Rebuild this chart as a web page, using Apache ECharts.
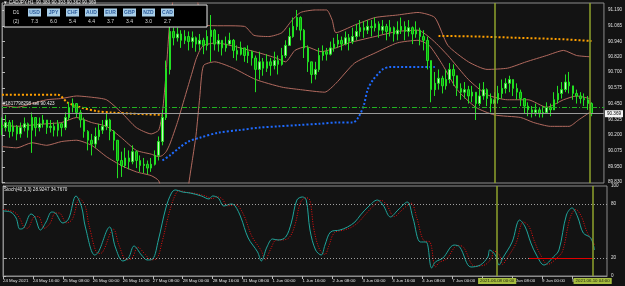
<!DOCTYPE html>
<html><head><meta charset="utf-8">
<script src="https://cdn.jsdelivr.net/npm/echarts@6/dist/echarts.min.js"></script>
<style>html,body{margin:0;padding:0;background:#131313;}#c{width:625px;height:286px;}</style>
</head><body><div id="c"></div>
<script>
// ---------- DATA ----------
const candleIdx = [0,2,4,6,8,10,12,14,16,18,20,22,24,26,28,30,32,34,36,38,40,42,44,46,48,50,52,54,56,58,60,62,64,66,68,70,72,74,76,78,80,82,84,86,88,90,92,94,96,98,100,102,104,106,108,110,112,114,116,118,120,122,124,126,128,130,132,134,136,138,140,142,144,146,148,150,152,154,156,158,160,162,164,166,168,170,172,174,176,178,180,182,184,186,188,190,192,194,196,198,200,202,204,206,208,210,212,214,216,218,220,222,224,226,228,230,232,234,236,238,240,242,244,246,248,250,252,254,256,258,260,262,264,266,268,270,272,274,276,278,280,282,284,286,288,290,292,294,296,298,300,302,304,306,308,310,312,314,316];
const candleOpen = [90.28,90.26,90.30,90.23,90.27,90.21,90.26,90.29,90.24,90.34,
90.26,90.29,90.32,90.26,90.27,90.24,90.29,90.26,90.34,90.42,
90.45,90.38,90.32,90.23,90.16,90.13,90.19,90.24,90.27,90.32,
90.23,90.16,90.00,89.96,90.02,89.99,90.07,90.00,89.96,89.97,
89.94,89.97,90.04,90.15,90.34,90.72,91.02,90.97,91.00,90.95,
90.98,90.94,90.97,90.92,90.95,90.91,90.98,91.03,90.92,90.95,
90.89,90.92,90.95,90.87,90.84,90.89,90.83,90.86,90.81,90.72,
90.78,90.73,90.78,90.75,90.79,90.76,90.83,90.91,90.98,91.06,
91.13,91.03,90.89,90.78,90.68,90.72,90.83,90.86,90.84,90.89,
90.92,90.95,90.92,90.97,90.94,90.98,91.02,91.05,91.03,91.06,
91.05,91.08,91.03,91.06,91.02,91.05,91.00,91.03,91.06,91.02,
91.05,91.00,91.03,90.98,90.95,90.79,90.56,90.61,90.65,90.59,
90.64,90.72,90.67,90.57,90.54,90.56,90.51,90.54,90.45,90.51,
90.56,90.49,90.45,90.48,90.53,90.57,90.61,90.64,90.57,90.54,
90.49,90.43,90.40,90.38,90.40,90.37,90.38,90.42,90.40,90.48,
90.53,90.56,90.62,90.59,90.53,90.51,90.49,90.48,90.45];
const candleClose = [90.26,90.30,90.23,90.27,90.21,90.26,90.29,90.24,90.34,90.26,
90.29,90.32,90.26,90.27,90.24,90.29,90.26,90.34,90.42,90.45,
90.38,90.32,90.23,90.16,90.13,90.19,90.24,90.27,90.32,90.23,
90.16,90.00,89.96,90.02,89.99,90.07,90.00,89.96,89.97,89.94,
89.97,90.04,90.15,90.34,90.72,91.02,90.97,91.00,90.95,90.98,
90.94,90.97,90.92,90.95,90.91,90.98,91.03,90.92,90.95,90.89,
90.92,90.95,90.87,90.84,90.89,90.83,90.86,90.81,90.72,90.78,
90.73,90.78,90.75,90.79,90.76,90.83,90.91,90.98,91.06,91.13,
91.03,90.89,90.78,90.68,90.72,90.83,90.86,90.84,90.89,90.92,
90.95,90.92,90.97,90.94,90.98,91.02,91.05,91.03,91.06,91.05,
91.08,91.03,91.06,91.02,91.05,91.00,91.03,91.06,91.02,91.05,
91.00,91.03,90.98,90.95,90.79,90.56,90.61,90.65,90.59,90.64,
90.72,90.67,90.57,90.54,90.56,90.51,90.54,90.45,90.51,90.56,
90.49,90.45,90.48,90.53,90.57,90.61,90.64,90.57,90.54,90.49,
90.43,90.40,90.38,90.40,90.37,90.38,90.42,90.40,90.48,90.53,
90.56,90.62,90.59,90.53,90.51,90.49,90.48,90.45,90.37];
const candleHigh = [90.34,90.36,90.32,90.32,90.28,90.30,90.34,90.30,90.38,90.34,
90.34,90.36,90.32,90.32,90.30,90.32,90.30,90.38,90.46,90.49,
90.45,90.40,90.34,90.24,90.21,90.26,90.29,90.32,90.37,90.33,
90.24,90.16,90.07,90.10,90.08,90.12,90.08,90.04,90.02,90.00,
90.02,90.08,90.19,90.40,90.79,91.07,91.05,91.05,91.03,91.03,
91.02,91.02,90.98,91.00,90.97,91.03,91.15,91.04,91.00,90.95,
90.98,91.01,90.96,90.91,90.94,90.89,90.91,90.87,90.83,90.86,
90.81,90.84,90.81,90.86,90.83,90.89,90.95,91.05,91.13,91.19,
91.14,91.04,90.91,90.78,90.78,90.89,90.91,90.89,90.94,90.97,
91.00,90.98,91.02,91.00,91.05,91.08,91.11,91.10,91.11,91.11,
91.13,91.10,91.11,91.08,91.11,91.06,91.10,91.13,91.10,91.11,
91.06,91.10,91.05,91.03,90.98,90.79,90.70,90.72,90.67,90.72,
90.77,90.76,90.67,90.61,90.62,90.59,90.59,90.54,90.61,90.62,
90.57,90.53,90.54,90.59,90.64,90.65,90.67,90.64,90.61,90.56,
90.49,90.46,90.43,90.45,90.42,90.43,90.46,90.45,90.54,90.59,
90.62,90.68,90.70,90.59,90.56,90.54,90.53,90.51,90.46];
const candleLow = [90.20,90.23,90.18,90.19,90.16,90.18,90.23,90.18,90.06,90.19,
90.23,90.26,90.21,90.22,90.19,90.19,90.19,90.24,90.32,90.38,
90.34,90.26,90.18,90.08,90.04,90.10,90.16,90.21,90.24,90.16,
90.08,89.86,89.87,89.94,89.93,89.97,89.94,89.91,89.90,89.89,
89.91,89.96,90.00,90.12,90.32,90.68,90.91,90.94,90.89,90.92,
90.87,90.89,90.86,90.87,90.84,90.87,90.78,90.87,90.86,90.83,
90.86,90.91,90.81,90.79,90.83,90.78,90.77,90.75,90.54,90.64,
90.67,90.70,90.67,90.72,90.68,90.75,90.81,90.91,90.97,91.03,
90.95,90.81,90.70,90.61,90.64,90.70,90.79,90.79,90.83,90.86,
90.89,90.87,90.91,90.87,90.92,90.95,90.98,90.97,91.00,90.98,
91.02,90.97,91.00,90.95,90.98,90.94,90.95,91.00,90.95,90.98,
90.92,90.97,90.91,90.87,90.72,90.46,90.51,90.56,90.53,90.56,
90.61,90.59,90.51,90.48,90.49,90.45,90.46,90.32,90.43,90.48,
90.43,90.38,90.40,90.45,90.49,90.53,90.54,90.51,90.48,90.43,
90.37,90.35,90.34,90.35,90.34,90.34,90.37,90.35,90.40,90.45,
90.49,90.54,90.53,90.48,90.45,90.45,90.43,90.40,90.35];

const bbUpperX = [0,8,16,24,32,40,48,56,64,72,80,84,86,88,90,94,98,100,102,104,106,108,130,135,143,150,155,160,168,174,177,179,189,200,212,223,232,239,250,260,271,281,292,301,308,315];
const bbUpper  = [90.44,90.42,90.45,90.48,90.49,90.51,90.50,90.48,90.38,90.26,90.21,90.24,90.38,90.70,91.10,91.45,91.55,91.55,91.50,91.35,91.15,91.07,91.06,90.99,90.98,91.01,91.10,91.17,91.19,91.19,91.11,91.01,91.07,91.13,91.15,91.17,91.13,90.91,90.78,90.72,90.73,90.78,90.83,90.87,90.83,90.82];
const bbMidX = [0,8,16,24,32,40,48,56,64,72,80,84,86,88,90,94,98,100,102,104,106,108,115,125,138,147,152,157,163,171,179,186,200,212,223,231,239,250,260,271,282,292,301,308,315];
const bbMid  = [90.28,90.27,90.28,90.29,90.30,90.34,90.30,90.27,90.18,90.08,90.05,90.03,90.04,90.07,90.13,90.30,90.50,90.60,90.70,90.80,90.87,90.91,90.93,90.90,90.85,90.81,90.78,90.87,90.90,90.86,90.89,90.93,90.98,91.02,91.03,90.95,90.83,90.64,90.52,90.48,90.48,90.42,90.48,90.51,90.49];
const bbLowerX = [0,8,16,24,32,40,48,56,64,72,80,84,86,88,90,94,98,100,102,104,106,108,114,124,136,150,160,173,179,189,200,212,223,229,236,244,254,264,278,285,294,304,309,315];
const bbLower  = [90.11,90.10,90.14,90.12,90.15,90.16,90.12,90.03,89.96,89.91,89.88,89.84,89.72,89.42,89.15,89.10,89.45,89.80,90.00,90.20,90.50,90.75,90.78,90.73,90.64,90.58,90.56,90.54,90.61,90.77,90.85,90.93,90.95,90.91,90.76,90.56,90.42,90.36,90.34,90.30,90.27,90.27,90.32,90.38];

const maLeftX = [0,30,35,42,51,58,70,86];
const maLeft  = [90.52,90.52,90.46,90.42,90.39,90.38,90.37,90.36];
const maRightX = [234,255,276,298,316];
const maRight  = [90.985,90.98,90.97,90.96,90.945];
const sarX = [86,90,95,100,106,116,127,138,148,159,170,180,188,191,194,196,199,202,204,208,212,232];
const sar  = [90.00,90.04,90.10,90.15,90.18,90.22,90.24,90.26,90.27,90.28,90.29,90.30,90.30,90.34,90.44,90.56,90.64,90.69,90.72,90.74,90.74,90.74];

const stochX = [0,4,7,9,11,15,17,20,23,26,28,32,35,39,42,44,49,51,57,60,64,67,70,74,77,80,83,87,90,92,96,100,106,110,112,115,118,122,124,127,131,136,138,141,144,147,151,154,157,160,162,164,167,170,172,175,180,184,188,191,195,200,203,207,211,216,219,223,226,229,231,235,241,244,250,255,259,260,263,265,267,272,276,279,282,285,289,294,297,301,304,307,310,314,316];
const stochMain = [72.2,71.1,64.4,52.2,53.3,68.9,65.6,51.1,60.0,71.1,70.0,58.9,63.3,88.9,76.7,54.4,23.3,26.7,54.4,32.2,16.7,20.0,33.3,23.3,17.8,18.9,40.0,75.6,92.2,95.6,93.3,92.2,88.9,85.6,88.9,86.7,77.8,80.0,77.8,65.6,42.2,26.7,16.7,32.2,41.1,40.0,43.3,58.9,84.4,87.8,84.4,51.1,28.9,23.3,34.4,48.9,51.1,54.4,60.0,67.8,76.7,84.4,78.9,65.6,73.3,82.2,64.4,37.8,37.8,8.9,15.6,20.0,34.4,32.2,10.0,12.2,21.1,28.9,23.3,12.2,20.0,37.8,62.2,54.4,36.7,23.3,12.2,21.1,28.9,67.8,75.6,65.6,47.8,42.2,28.9];
const stochSigX = [0,6,9,11,13,17,19,22,25,28,30,34,37,41,44,46,51,53,59,62,66,69,72,76,79,82,85,89,92,94,98,102,108,112,114,117,120,124,126,129,133,138,140,143,146,149,153,156,159,162,164,166,169,172,174,177,182,186,190,193,197,202,205,209,213,218,221,225,228,231,233,237,243,246,252,257,261,262,265,267,269,274,278,281,284,287,291,296,299,303,306,309,312,316];
const stochSig = [74,71,64,55,53,66,66,53,58,70,70,59,63,86,77,56,25,26,52,34,18,20,32,24,18,19,38,72,90,95,93,92,89,86,88,86,78,79,77,66,44,28,18,30,40,40,43,57,82,87,84,53,30,24,33,48,51,54,60,67,76,84,79,66,73,81,65,39,38,10,15,19,34,32,11,12,20,28,24,13,19,36,60,55,38,24,13,20,28,65,74,66,49,34.8];

const yTicks = [89.830,89.950,90.075,90.200,90.325,90.450,90.575,90.700,90.820,90.940,91.065,91.190];
const stochTicks = [0,20,80,100];
const xTickIdx = [0,16,32,48,64,80,96,112,128,144,160,176,192,208,224,240,256,272,288,304];
const xTickText = ['24 May 2021','24 May 16:00','25 May 08:00','26 May 00:00','26 May 16:00','27 May 08:00','28 May 00:00','28 May 16:00','31 May 08:00','1 Jun 00:00','1 Jun 16:00','2 Jun 08:00','3 Jun 00:00','3 Jun 16:00','4 Jun 08:00','7 Jun 00:00','7 Jun 16:00','8 Jun 08:00','9 Jun 00:00','9 Jun 16:00'];
const vLineIdx = [264,315];
const vLineText = ['2021.06.08 00:00','2021.06.10 04:00'];
const bidPrice = 90.369;
const orderPrice = 90.423;
const orderText = '#1817798298 sell 90.423';
const stochLevels = [80,20];
const redLevel = {from:281, to:315, value:20};
const titleText = '\u25BC CADJPY,H1  90.383 90.393 90.362 90.369';
const stochText = 'Stoch(40,3,3) 28.9247 34.7670';
const tableCurrencies = ['USD','JPY','CHF','AUD','EUR','GBP','NZD','CAD'];
const tableValues = ['7.3','6.0','5.4','4.4','3.7','3.4','3.0','2.7'];

// ---------- CHART ----------
const FONT = 'Liberation Sans';
const pairs = (xs, ys) => xs.map((x, i) => [x, ys[i]]);
const chart = echarts.init(document.getElementById('c'), null, {renderer: 'canvas'});

const tableGraphics = [];
tableGraphics.push({type:'rect', shape:{x:4, y:5, width:203, height:22}, style:{fill:'#000', stroke:'#e8e8e8', lineWidth:1}, z:100});
tableGraphics.push({type:'text', x:13, y:10, style:{text:'D1', fill:'#dcdcdc', font:'5px '+FONT}, z:101});
tableGraphics.push({type:'text', x:13, y:19, style:{text:'(2)', fill:'#dcdcdc', font:'5px '+FONT}, z:101});
tableCurrencies.forEach((c, k) => {
  const x0 = 28 + k * 19;
  tableGraphics.push({type:'rect', shape:{x:x0, y:8.5, width:13, height:8}, style:{fill:'#a9cfe9'}, z:101});
  tableGraphics.push({type:'text', x:x0 + 6.5, y:10, style:{text:c, fill:'#2c5c9c', font:'bold 5px '+FONT, align:'center'}, z:102});
  tableGraphics.push({type:'text', x:x0 + 6.5, y:19, style:{text:tableValues[k], fill:'#dcdcdc', font:'5px '+FONT, align:'center'}, z:102});
});

const gridBorder = '#8c8c8c';
const option = {
  backgroundColor: '#131313',
  animation: false,
  grid: [
    {left: 2, top: 3, width: 605, height: 180, show: true, borderColor: gridBorder, borderWidth: 1},
    {left: 2, top: 186, width: 605, height: 90, show: true, borderColor: gridBorder, borderWidth: 1}
  ],
  xAxis: [
    {type:'value', gridIndex:0, min:0, max:322.67, axisLine:{show:false}, axisTick:{show:false}, axisLabel:{show:false}, splitLine:{show:false}},
    {type:'value', gridIndex:1, min:0, max:322.67, axisLine:{show:true, lineStyle:{color:gridBorder}},
     axisTick:{show:true, length:3, customValues:xTickIdx, lineStyle:{color:'#bbb'}},
     axisLabel:{show:true, customValues:xTickIdx, color:'#e0e0e0', fontSize:4.4, fontFamily:FONT, align:'left', margin:3,
       formatter: v => { const k = xTickIdx.indexOf(Math.round(v)); return k >= 0 ? xTickText[k] : ''; }},
     splitLine:{show:false}}
  ],
  yAxis: [
    {type:'value', gridIndex:0, position:'right', min:89.822, max:91.245,
     axisLine:{show:true, lineStyle:{color:gridBorder}},
     axisTick:{show:true, length:3, customValues:yTicks, lineStyle:{color:'#bbb'}},
     axisLabel:{show:true, customValues:yTicks, color:'#e0e0e0', fontSize:4.6, fontFamily:FONT, margin:4, formatter: v => v.toFixed(3)},
     splitLine:{show:false}},
    {type:'value', gridIndex:1, position:'right', min:0, max:100,
     axisLine:{show:true, lineStyle:{color:gridBorder}},
     axisTick:{show:true, length:3, customValues:stochTicks, lineStyle:{color:'#bbb'}},
     axisLabel:{show:true, customValues:stochTicks, color:'#e0e0e0', fontSize:4.6, fontFamily:FONT, margin:4},
     splitLine:{show:false}}
  ],
  graphic: [
    {type:'text', left:3, top:0, style:{text:titleText, fill:'#e8e8e8', font:'4.6px '+FONT}, z:100},
    {type:'text', left:4, top:187, style:{text:stochText, fill:'#e8e8e8', font:'4.6px '+FONT}, z:100},
    ...tableGraphics
  ],
  series: [
    {type:'line', name:'bbUpper', xAxisIndex:0, yAxisIndex:0, data: pairs(bbUpperX, bbUpper), symbol:'none', smooth:0.2, clip:true,
     lineStyle:{color:'#b26a5f', width:1}, z:2},
    {type:'line', name:'bbMid', xAxisIndex:0, yAxisIndex:0, data: pairs(bbMidX, bbMid), symbol:'none', smooth:0.2, clip:true,
     lineStyle:{color:'#b26a5f', width:1}, z:2,
     markLine:{silent:true, symbol:'none', animation:false, data:[
       {yAxis: orderPrice, lineStyle:{color:'#22b422', width:1, type:[5,2,1,2]},
        label:{show:true, position:'insideStartTop', formatter: orderText, color:'#e8e8e8', fontSize:4.6, fontFamily:FONT, distance:[1,1]}},
       {yAxis: bidPrice, lineStyle:{color:'#9a9a9a', width:1, type:'solid'},
        label:{show:true, position:'end', formatter: bidPrice.toFixed(3), color:'#000', backgroundColor:'#f4f4f4', fontSize:4.6, fontFamily:FONT, padding:[1,2], distance:1}},
       ...vLineIdx.map(v => ({xAxis: v, lineStyle:{color:'#8fa32c', width:1.5, type:'solid'}, label:{show:false}}))
     ]}},
    {type:'line', name:'bbLower', xAxisIndex:0, yAxisIndex:0, data: pairs(bbLowerX, bbLower), symbol:'none', smooth:0.2, clip:true,
     lineStyle:{color:'#b26a5f', width:1}, z:2},
    {type:'line', name:'maLeft', xAxisIndex:0, yAxisIndex:0, data: pairs(maLeftX, maLeft), symbol:'none', smooth:0.3,
     lineStyle:{color:'#ffa000', width:2, type:'dotted'}, z:3},
    {type:'line', name:'maRight', xAxisIndex:0, yAxisIndex:0, data: pairs(maRightX, maRight), symbol:'none', smooth:0.3,
     lineStyle:{color:'#ffa000', width:2, type:'dotted'}, z:3},
    {type:'line', name:'sar', xAxisIndex:0, yAxisIndex:0, data: pairs(sarX, sar), symbol:'none', smooth:0.3,
     lineStyle:{color:'#1f6bff', width:2, type:'dotted'}, z:3},
    {type:'candlestick', name:'price', xAxisIndex:0, yAxisIndex:0, barWidth:2,
     data: candleIdx.map((x, k) => [x, candleOpen[k], candleClose[k], candleLow[k], candleHigh[k]]),
     encode:{x:0, y:[1,2,3,4]},
     itemStyle:{color:'#c8f8c0', color0:'#0aa00a', borderColor:'#22e022', borderColor0:'#22e022', borderWidth:1}, z:4},
    {type:'line', name:'stochMain', xAxisIndex:1, yAxisIndex:1, data: pairs(stochX, stochMain), symbol:'none', smooth:0.35,
     lineStyle:{color:'#1fa59b', width:1}, z:3,
     markLine:{silent:true, symbol:'none', animation:false, data:[
       ...stochLevels.map(v => ({yAxis:v, lineStyle:{color:'#a0a0a0', width:1, type:[1,2]}, label:{show:false}})),
       [{coord:[redLevel.from, redLevel.value], lineStyle:{color:'#e00000', width:1.2, type:'solid'}, label:{show:false}}, {coord:[redLevel.to, redLevel.value]}],
       ...vLineIdx.map((v, k) => ({xAxis: v, lineStyle:{color:'#8fa32c', width:1.5, type:'solid'},
          label:{show:true, position:'start', formatter: vLineText[k], color:'#202010', backgroundColor:'#a6bd3e', fontSize:4.4, fontFamily:FONT, padding:[1,2], distance:2}}))
     ]}},
    {type:'line', name:'stochSig', xAxisIndex:1, yAxisIndex:1, data: pairs(stochSigX, stochSig), symbol:'none', smooth:0.35,
     lineStyle:{color:'#e81010', width:1, type:[1,1.5]}, z:2}
  ]
};
chart.setOption(option);
</script></body></html>
